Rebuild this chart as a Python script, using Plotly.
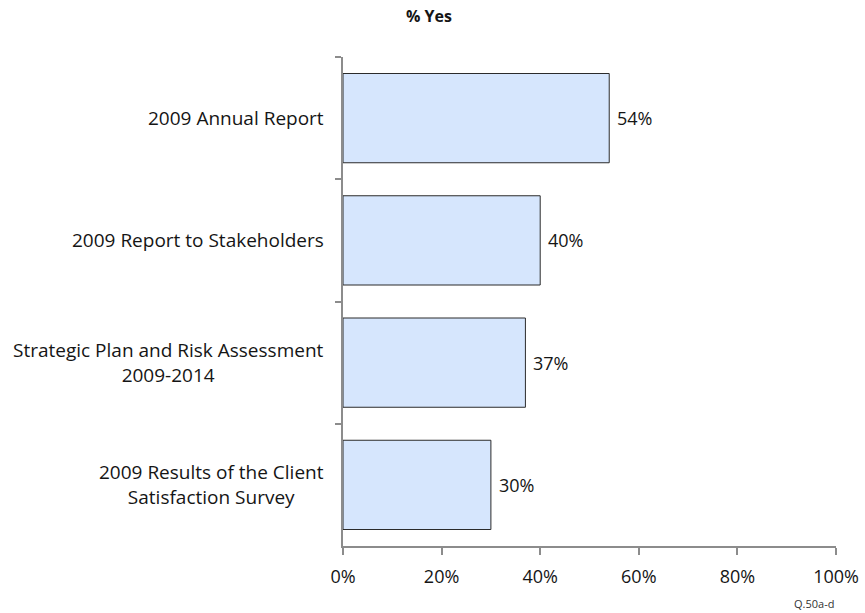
import plotly.graph_objects as go

# Survey items (top to bottom) and share answering "Yes"
items = [
    "2009 Annual Report",
    "2009 Report to Stakeholders",
    "Strategic Plan and Risk Assessment<br>2009-2014",
    "2009 Results of the Client<br>Satisfaction Survey",
]
pct_yes = [54, 40, 37, 30]
x_ticks = [0, 20, 40, 60, 80, 100]
x_tick_labels = [f"{v}%" for v in x_ticks]

FONT = "'Open Sans', Lato, sans-serif"
AXIS_GRAY = "#8c8c8c"
TEXT = "#151515"

fig = go.Figure(
    go.Bar(
        y=items,
        x=pct_yes,
        orientation="h",
        marker=dict(color="#d6e6fd", line=dict(color="#2b2b2b", width=1)),
        width=0.73,
        hoverinfo="skip",
    )
)

# Value labels just past the end of each bar
for label, v in zip(items, pct_yes):
    fig.add_annotation(
        x=v, xref="x", y=label, yref="y",
        text=f"{v}%", showarrow=False,
        xanchor="left", yanchor="middle", xshift=6,
        font=dict(family=FONT, size=18, color=TEXT),
    )

# Category labels, centred line-by-line to the left of the axis
for label in items:
    fig.add_annotation(
        x=0, xref="paper", y=label, yref="y",
        text=label, showarrow=False,
        xanchor="right", yanchor="middle", align="center",
        xshift=-17,
        font=dict(family=FONT, size=19, color=TEXT),
    )

fig.add_annotation(
    x=0.175, xref="paper", y=1, yref="paper",
    text="<b>% Yes</b>", showarrow=False,
    xanchor="center", yanchor="bottom", yshift=28,
    font=dict(family=FONT, size=16, color=TEXT),
)
fig.add_annotation(
    x=1, xref="paper", y=0, yref="paper",
    text="Q.50a-d", showarrow=False,
    xanchor="right", yanchor="top", yshift=-48,
    font=dict(family=FONT, size=11, color="#333"),
)

fig.update_layout(
    width=865, height=613,
    margin=dict(l=343, r=29, t=57, b=67),
    paper_bgcolor="white", plot_bgcolor="white",
    showlegend=False,
    bargap=0.27,
    xaxis=dict(
        range=[0, 100],
        tickvals=x_ticks, ticktext=x_tick_labels,
        ticks="outside", ticklen=7, tickcolor=AXIS_GRAY, tickwidth=2,
        ticklabelstandoff=6, ticklabeloverflow="allow",
        automargin=False,
        showline=True, linecolor=AXIS_GRAY, linewidth=2,
        showgrid=False, zeroline=False,
        tickfont=dict(family=FONT, size=18, color=TEXT),
        fixedrange=True,
    ),
    yaxis=dict(
        autorange="reversed",
        showticklabels=False,
        automargin=False,
        ticks="outside", tickson="boundaries", ticklen=6,
        tickcolor=AXIS_GRAY, tickwidth=2,
        showline=True, linecolor=AXIS_GRAY, linewidth=2,
        showgrid=False, zeroline=False,
        fixedrange=True,
    ),
)

fig.write_html("out.html")
